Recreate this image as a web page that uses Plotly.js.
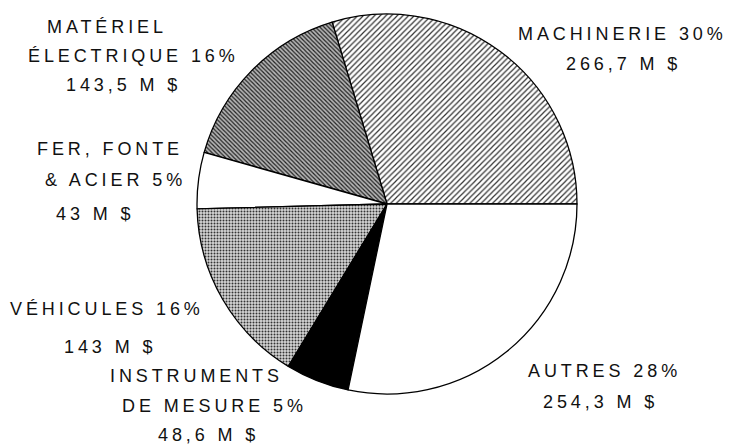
<!DOCTYPE html>
<html><head><meta charset="utf-8">
<script src="https://cdn.plot.ly/plotly-3.0.1.min.js"></script>
<style>
html,body{margin:0;padding:0;background:#fff;}
#chart{width:733px;height:446px;}
.annotation-text{letter-spacing:3.9px;}
</style>
</head><body>
<div id="chart"></div>
<script>
// Data (millions de dollars)
const categories = ["MACHINERIE", "MATÉRIEL ÉLECTRIQUE", "FER, FONTE & ACIER", "VÉHICULES", "INSTRUMENTS DE MESURE", "AUTRES"];
const values = [266.7, 143.5, 43, 143, 48.6, 254.3];
const percents = [30, 16, 5, 16, 5, 28];
const valueLabels = ["266,7 M $", "143,5 M $", "43 M $", "143 M $", "48,6 M $", "254,3 M $"];

// label line layout: [category index, line text, x px, y px]
const labelLines = [
  [0, categories[0] + " " + percents[0] + "%", 622, 34],
  [0, valueLabels[0], 623, 64],
  [1, "MATÉRIEL", 107, 27],
  [1, "ÉLECTRIQUE " + percents[1] + "%", 133, 56],
  [1, valueLabels[1], 123, 85],
  [2, "FER, FONTE", 110, 149],
  [2, "& ACIER " + percents[2] + "%", 115, 180],
  [2, valueLabels[2], 95, 214],
  [3, "VÉHICULES " + percents[3] + "%", 107, 309],
  [3, valueLabels[3], 110, 347],
  [4, "INSTRUMENTS", 196, 376],
  [4, "DE MESURE " + percents[4] + "%", 214, 406],
  [4, valueLabels[4], 208, 435],
  [5, categories[5] + " " + percents[5] + "%", 604, 371],
  [5, valueLabels[5], 600, 402]
];

const W = 733, H = 446;
const total = values.reduce((a, b) => a + b, 0);
const annotations = labelLines.map(l => ({
  text: l[1], xref: "paper", yref: "paper",
  x: l[2] / W, y: 1 - l[3] / H, xanchor: "center", yanchor: "middle",
  showarrow: false,
  font: {family: "Liberation Sans, Arial, sans-serif", size: 18, color: "#111"}
}));

const trace = {
  type: "pie",
  labels: categories,
  values: values,
  sort: false,
  direction: "counterclockwise",
  rotation: 90 - 360 * values[0] / total,
  textinfo: "none",
  hoverinfo: "label+value",
  domain: {x: [197 / W, 577 / W], y: [1 - 394 / H, 1 - 14 / H]},
  marker: {
    colors: ["#ffffff", "#ffffff", "#ffffff", "#ffffff", "#000000", "#ffffff"],
    line: {color: "#000000", width: 1.3},
    pattern: {
      shape: ["/", "\\", "", ".", "", ""],
      fgcolor: ["#333333", "#222222", "#000000", "#333333", "#000000", "#000000"],
      bgcolor: ["#ffffff", "#b5b5b5", "#ffffff", "#d6d6d6", "#000000", "#ffffff"],
      size: [4, 3, 4, 3, 4, 4],
      solidity: [0.3, 0.4, 0.3, 0.35, 0.3, 0.3],
      fillmode: "replace"
    }
  }
};

Plotly.newPlot("chart", [trace], {
  width: W, height: H,
  margin: {l: 0, r: 0, t: 0, b: 0},
  paper_bgcolor: "#ffffff",
  showlegend: false,
  annotations: annotations
}, {displayModeBar: false, staticPlot: true});
</script>
</body></html>
